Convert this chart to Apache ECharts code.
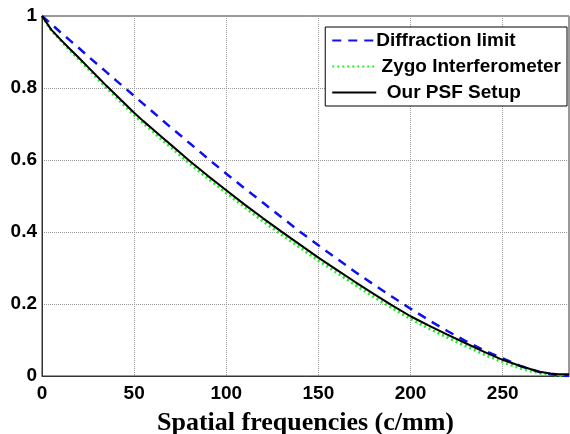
<!DOCTYPE html>
<html>
<head>
<meta charset="utf-8">
<script src="https://cdn.jsdelivr.net/npm/echarts@6/dist/echarts.min.js"></script>
<style>html,body{margin:0;padding:0;background:#fff}#c{width:570px;height:434px}</style>
</head>
<body>
<div id="c"></div>
<script>
var seriesNames = ['Diffraction limit', ' Zygo Interferometer', '  Our PSF Setup'];
var freq = [0,5,10,15,20,25,30,35,40,45,50,55,60,65,70,75,80,85,90,95,100,110,120,130,140,150,160,170,180,190,200,210,220,230,240,250,260,270,276,280,286];
var diffraction = [1.0,0.978,0.955,0.933,0.911,0.888,0.866,0.844,0.822,0.800,0.778,0.756,0.734,0.712,0.690,0.669,0.647,0.626,0.604,0.583,0.562,0.521,0.481,0.441,0.401,0.363,0.326,0.289,0.254,0.220,0.187,0.155,0.125,0.097,0.071,0.049,0.027,0.011,0.005,0.002,0.0];
var ourPSF = [1.0,0.962,0.935,0.909,0.884,0.858,0.832,0.806,0.781,0.756,0.731,0.708,0.686,0.664,0.642,0.620,0.598,0.577,0.556,0.536,0.516,0.476,0.438,0.401,0.365,0.329,0.295,0.261,0.228,0.196,0.166,0.140,0.115,0.091,0.067,0.045,0.027,0.012,0.007,0.005,0.005];
var zygo = [1.0,0.961,0.933,0.906,0.880,0.854,0.827,0.801,0.776,0.750,0.725,0.702,0.680,0.657,0.635,0.613,0.591,0.570,0.549,0.529,0.509,0.469,0.430,0.393,0.357,0.321,0.287,0.253,0.220,0.189,0.159,0.132,0.107,0.083,0.060,0.039,0.021,0.008,0.004,0.002,0.0];
var xTicks = {min: 0, max: 286, interval: 50};
var yTicks = {min: 0, max: 1, interval: 0.2};

function pairs(xs, ys){ return xs.map(function(x,i){ return [x, ys[i]]; }); }

var chart = echarts.init(document.getElementById('c'));
var labelFont = {fontFamily: 'Liberation Sans, Arial, sans-serif', fontWeight: 'bold', fontSize: 19, color: '#000'};
chart.setOption({
  animation: false,
  backgroundColor: '#fff',
  grid: {left: 42, top: 16, right: 1, bottom: 58, show: true, borderColor: '#333', borderWidth: 1, containLabel: false, outerBoundsMode: 'none'},
  legend: {
    orient: 'vertical', right: 3, top: 27,
    backgroundColor: '#fff', borderColor: '#000', borderWidth: 1,
    padding: [4, 6, 4, 6], itemGap: 7, itemWidth: 44, itemHeight: 19,
    itemStyle: {opacity: 0},
    textStyle: {fontFamily: 'Liberation Sans, Arial, sans-serif', fontWeight: 'bold', fontSize: 19, color: '#000', padding: [0,0,0,-5]},
    data: seriesNames
  },
  xAxis: {
    type: 'value', min: xTicks.min, max: xTicks.max, interval: xTicks.interval,
    name: 'Spatial frequencies (c/mm)', nameLocation: 'middle', nameGap: 34,
    nameTextStyle: {fontFamily: 'Liberation Serif, Times New Roman, serif', fontWeight: 'bold', fontSize: 26, color: '#000'},
    axisLine: {show: true, lineStyle: {color: '#333'}},
    axisTick: {show: false},
    axisLabel: Object.assign({margin: 8, showMaxLabel: false}, labelFont),
    splitLine: {show: true, lineStyle: {color: '#999', type: 'dotted', width: 1}}
  },
  yAxis: {
    type: 'value', min: yTicks.min, max: yTicks.max, interval: yTicks.interval,
    axisLine: {show: true, lineStyle: {color: '#333'}},
    axisTick: {show: false},
    axisLabel: Object.assign({margin: 5, formatter: function(v){ return String(+v.toFixed(1)); }}, labelFont),
    splitLine: {show: true, lineStyle: {color: '#999', type: 'dotted', width: 1}}
  },
  series: [
    {name: seriesNames[0], type: 'line', symbol: 'none', z: 3,
     lineStyle: {color: '#1010ee', width: 2.5, type: [9, 7]}, itemStyle: {color: '#1010ee'},
     data: pairs(freq, diffraction)},
    {name: seriesNames[1], type: 'line', symbol: 'none', z: 2,
     lineStyle: {color: '#22ee22', width: 3, type: [2, 3]}, itemStyle: {color: '#22ee22'},
     data: pairs(freq, zygo)},
    {name: seriesNames[2], type: 'line', symbol: 'none', z: 4,
     lineStyle: {color: '#000', width: 2}, itemStyle: {color: '#000'},
     data: pairs(freq, ourPSF)}
  ]
});
</script>
</body>
</html>
